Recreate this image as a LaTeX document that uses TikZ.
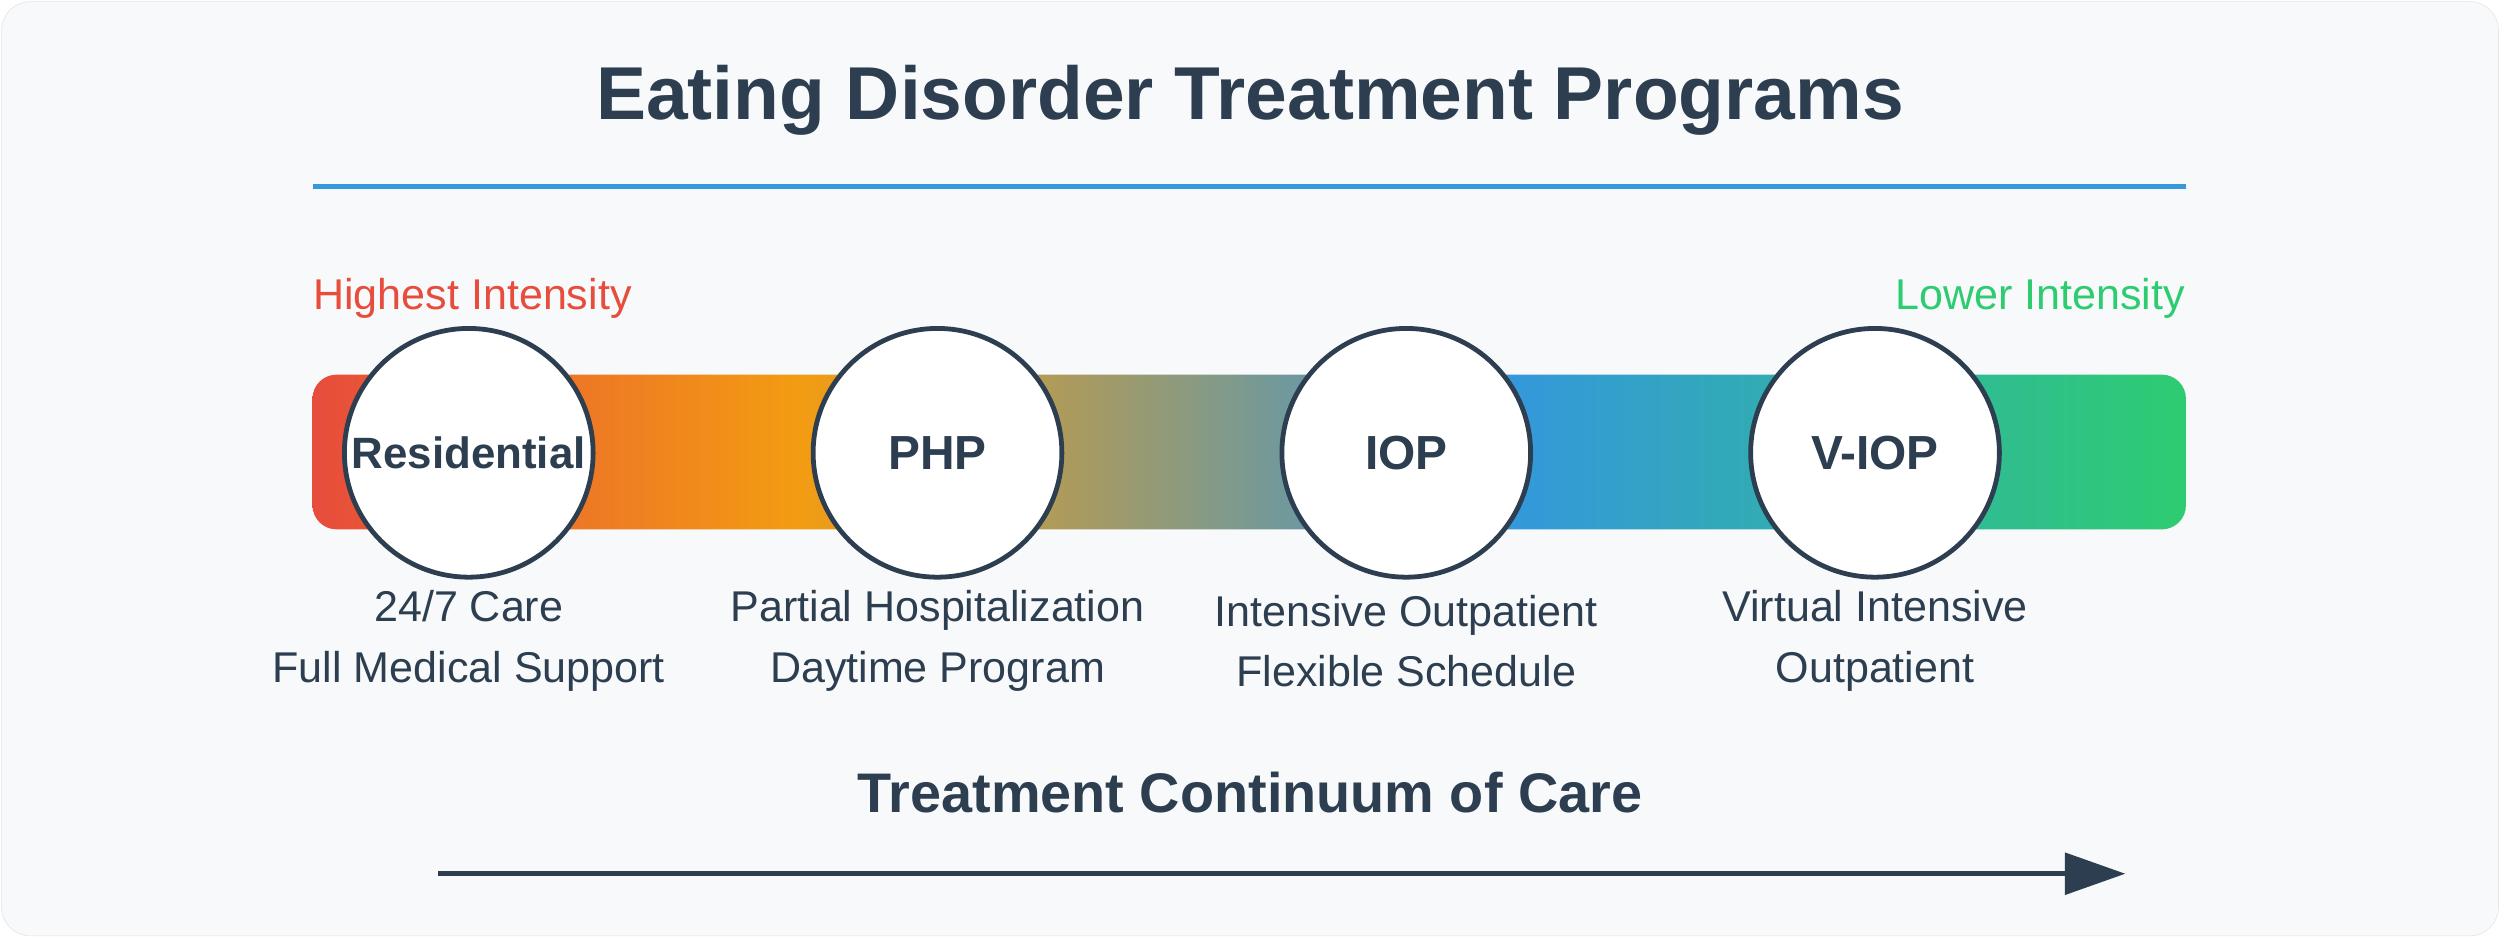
\documentclass[tikz,border=0pt]{standalone}
\usepackage{fontspec}
\setmainfont{Liberation Sans}
\usetikzlibrary{arrows.meta}
\definecolor{dark}{HTML}{2C3E50}
\definecolor{cred}{HTML}{E74C3C}
\definecolor{corange}{HTML}{F39C12}
\definecolor{cblue}{HTML}{3498DB}
\definecolor{cgreen}{HTML}{2ECC71}
\definecolor{bg}{HTML}{F8F9FA}
\pgfdeclarehorizontalshading{intensity}{100bp}{color(0bp)=(cred); color(25bp)=(cred); color(38bp)=(corange); color(57bp)=(cblue); color(75bp)=(cgreen); color(100bp)=(cgreen)}
\tikzset{
  prog/.style={circle, draw=dark, line width=3pt, fill=white, minimum size=156pt, inner sep=0pt, text=dark, font=\bfseries\fontsize{30}{34}\selectfont},
  desc/.style={text=dark, font=\fontsize{27}{38}\selectfont, align=center},
}
\begin{document}
\begin{tikzpicture}[x=1pt,y=-1pt]
\useasboundingbox (0,0) rectangle (1568,588);
\node[draw=black!10, fill=bg, rounded corners=18pt, minimum width=1566pt, minimum height=586pt, inner sep=0pt] (bgbox) at (784,294) {};
\node[text=dark, font=\bfseries\fontsize{47}{54}\selectfont] (title) at (784,63) {Eating Disorder Treatment Programs};
\coordinate (l1) at (196,117); \coordinate (l2) at (1371,117);
\draw[cblue, line width=3pt] (l1) -- (l2);
\node[anchor=west, text=cred, font=\fontsize{27}{32}\selectfont] (hi) at (193,187) {Highest Intensity};
\node[anchor=east, text=cgreen, font=\fontsize{27}{32}\selectfont] (lo) at (1374,187) {Lower Intensity};
\shade[shading=intensity, rounded corners=15pt] (196,235) rectangle (1371,332);
\node[prog, font=\bfseries\fontsize{27.5}{32}\selectfont] (res) at (294,284) {Residential};
\node[prog] (php) at (588,284) {PHP};
\node[prog] (iop) at (882,284) {IOP};
\node[prog] (viop) at (1176,284) {V-IOP};
\node[desc] (d1) at (294,402) {24/7 Care\\Full Medical Support};
\node[desc] (d2) at (588,402) {Partial Hospitalization\\Daytime Program};
\node[desc] (d3) at (882,402) {Intensive Outpatient\\Flexible Schedule};
\node[desc] (d4) at (1176,402) {Virtual Intensive\\Outpatient};
\node[text=dark, font=\bfseries\fontsize{35}{40}\selectfont] (cont) at (784,497) {Treatment Continuum of Care};
\coordinate (a1) at (275,548); \coordinate (a2) at (1333,548);
\draw[dark, line width=3pt, -{Triangle[length=38pt,width=26pt]}] (a1) -- (a2);
\end{tikzpicture}
\end{document}
